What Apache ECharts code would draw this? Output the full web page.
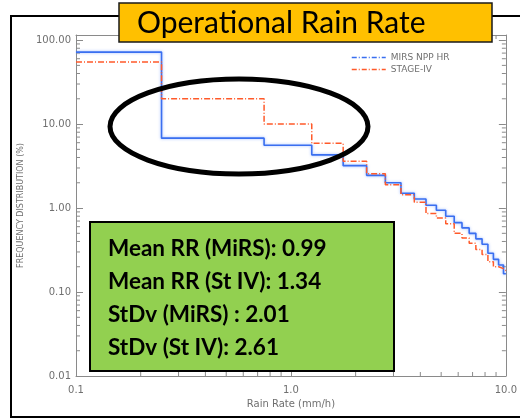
<!DOCTYPE html>
<html><head><meta charset="utf-8">
<script src="https://cdn.jsdelivr.net/npm/echarts@6/dist/echarts.min.js"></script>
<style>html,body{margin:0;padding:0;background:#fff}#c{width:520px;height:419px}</style>
</head><body><div id="c"></div>
<script>
// Bin left edges (mm/h); final entry closes the last bin at the axis end
const binEdges = [0.1, 0.25, 0.75, 1.25, 1.75, 2.25, 2.75, 3.25, 3.75, 4.25, 4.75, 5.25, 5.75, 6.25, 6.75, 7.25, 7.75, 8.25, 8.75, 9.25, 9.75, 10.0];
// Frequency distribution (%) per bin
const mirsValues = [72, 6.8, 5.6, 4.3, 3.2, 2.45, 2.0, 1.5, 1.28, 1.08, 0.94, 0.80, 0.67, 0.58, 0.50, 0.43, 0.37, 0.29, 0.245, 0.21, 0.165];
const stage4Values = [55, 20, 10, 5.9, 3.6, 2.56, 1.9, 1.44, 1.17, 0.86, 0.76, 0.65, 0.50, 0.44, 0.38, 0.32, 0.28, 0.23, 0.20, 0.19, 0.18];
const seriesNames = ['MIRS NPP HR', 'STAGE-IV'];
const titleText = 'Operational Rain Rate';
const statsLines = ['Mean RR (MiRS): 0.99', 'Mean RR (St IV): 1.34', 'StDv (MiRS) : 2.01', 'StDv (St IV): 2.61'];
const xMinorTicks = [0.2,0.3,0.4,0.5,0.6,0.7,0.8,0.9,2,3,4,5,6,7,8,9];
const yMinorTicks = [0.02,0.03,0.04,0.05,0.06,0.07,0.08,0.09,0.2,0.3,0.4,0.5,0.6,0.7,0.8,0.9,2,3,4,5,6,7,8,9,20,30,40,50,60,70,80,90];

function stepData(vals){
  const d = vals.map((v,i)=>[binEdges[i], v]);
  d.push([binEdges[binEdges.length-1], vals[vals.length-1]]);
  return d;
}
const axisCol = '#8a8a8a';
const labCol = '#6f6f6f';
const isPow = v => Math.abs(Math.log10(v) - Math.round(Math.log10(v))) < 1e-6;

const chart = echarts.init(document.getElementById('c'));
const baseX = {type:'log', logBase:10, min:0.1, max:10, interval:1,
  axisLine:{lineStyle:{color:axisCol, width:1}}, splitLine:{show:false},
  axisTick:{inside:true, length:7, lineStyle:{color:axisCol}}};
const baseY = {type:'log', logBase:10, min:0.01, max:115, interval:1,
  axisLine:{lineStyle:{color:axisCol, width:1}}, splitLine:{show:false},
  axisTick:{inside:true, length:7, lineStyle:{color:axisCol}}};

chart.setOption({
  animation:false,
  grid:{left:76, right:7, top:35, bottom:43},
  xAxis:[
    Object.assign({}, baseX, {position:'bottom',
      name:'Rain Rate (mm/h)', nameLocation:'middle', nameGap:22,
      nameTextStyle:{color:labCol, fontSize:10, fontFamily:'DejaVu Sans'},
      axisLabel:{color:labCol, fontSize:10, margin:9, fontFamily:'DejaVu Sans',
        formatter:v=> isPow(v) ? v.toFixed(1) : ''}}),
    Object.assign({}, baseX, {position:'top', axisLabel:{show:false}})
  ],
  yAxis:[
    Object.assign({}, baseY, {position:'left',
      name:'FREQUENCY DISTRIBUTION (%)', nameLocation:'middle', nameGap:50, nameRotate:90,
      nameTextStyle:{color:labCol, fontSize:8, fontFamily:'DejaVu Sans'},
      axisLabel:{color:labCol, fontSize:10, margin:5, fontFamily:'DejaVu Sans',
        formatter:v=> isPow(v) ? v.toFixed(2) : ''}}),
    Object.assign({}, baseY, {position:'right', axisLabel:{show:false}})
  ],
  legend:{
    orient:'vertical', left:346, top:48, itemWidth:34, itemHeight:8, itemGap:3,
    itemStyle:{opacity:0},
    textStyle:{color:labCol, fontSize:9, fontFamily:'DejaVu Sans'},
    data:[
      {name:seriesNames[0], lineStyle:{color:'#3a6ff0', width:1.5, type:[5,2,1,2]}},
      {name:seriesNames[1], lineStyle:{color:'#ff5a2a', width:1.5, type:[5,2,1,2]}}
    ]
  },
  series:[
    {name:seriesNames[0], type:'line', step:'end', data:stepData(mirsValues), symbol:'none',
      xAxisIndex:0, yAxisIndex:0, z:3, color:'#3a6ff0',
      lineStyle:{color:'#3a6ff0', width:1.6, shadowColor:'rgba(90,140,255,0.6)', shadowBlur:3}},
    {name:seriesNames[1], type:'line', step:'end', data:stepData(stage4Values), symbol:'none',
      xAxisIndex:0, yAxisIndex:0, z:4, color:'#ff5a2a',
      lineStyle:{color:'#ff5a2a', width:1.5, type:[6,2,1,2]}},
    {type:'custom', xAxisIndex:0, yAxisIndex:0, silent:true, z:2,
      data: xMinorTicks.map(v=>[v,1,0]).concat(yMinorTicks.map(v=>[1,v,1])),
      renderItem:function(params, api){
        const cs = params.coordSys;
        const kind = api.value(2);
        const L = 4;
        const st = {stroke:axisCol, lineWidth:1};
        if (kind === 0){
          const x = api.coord([api.value(0), 1])[0];
          return {type:'group', children:[
            {type:'line', shape:{x1:x, y1:cs.y+cs.height, x2:x, y2:cs.y+cs.height-L}, style:st},
            {type:'line', shape:{x1:x, y1:cs.y, x2:x, y2:cs.y+L}, style:st}]};
        } else {
          const y = api.coord([1, api.value(1)])[1];
          return {type:'group', children:[
            {type:'line', shape:{x1:cs.x, y1:y, x2:cs.x+L, y2:y}, style:st},
            {type:'line', shape:{x1:cs.x+cs.width, y1:y, x2:cs.x+cs.width-L, y2:y}, style:st}]};
        }
      }}
  ],
  graphic:[
    {type:'rect', z:1, shape:{x:11, y:16, width:520, height:401}, style:{fill:null, stroke:'#000', lineWidth:2}},
    {type:'rect', z:100, shape:{x:119, y:3, width:373, height:39}, style:{fill:'#FFC000', stroke:'#1a1a1a', lineWidth:1.5}},
    {type:'text', z:101, x:137, y:23, style:{text:titleText, fill:'#000', font:'30px Lato', textVerticalAlign:'middle'}},
    {type:'ellipse', z:100, shape:{cx:239, cy:126.5, rx:129, ry:47.5}, style:{fill:null, stroke:'#000', lineWidth:5}},
    {type:'rect', z:100, shape:{x:90, y:222, width:304, height:149}, style:{fill:'#92D050', stroke:'#000', lineWidth:2}},
    ...statsLines.map((t,i)=>({type:'text', z:101, x:108, y:249+i*33,
      style:{text:t, fill:'#000', font:'bold 22.5px Lato', textVerticalAlign:'middle'}}))
  ]
});
</script></body></html>
